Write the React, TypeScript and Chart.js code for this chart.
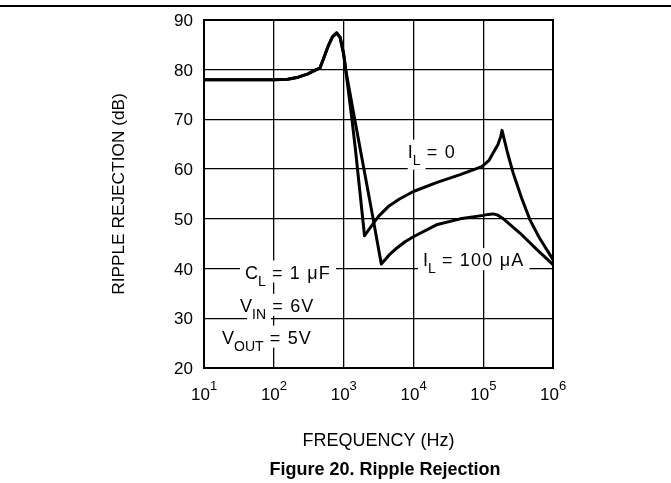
import React, { useEffect, useRef } from 'react';
import { Chart, registerables } from 'chart.js';

Chart.register(...registerables);

// Shared part of both curves (low frequency plateau and resonance peak)
const freqShared = [10, 100, 158, 224, 302, 380, 457, 525, 603, 692, 794, 891, 1000, 1072];
const dbShared = [78, 78, 78.1, 78.5, 79.1, 79.8, 80.3, 82.5, 84.8, 86.6, 87.4, 86.5, 83.2, 80];

// I_L = 0
const freqIL0 = [1318, 1479, 1995, 2512, 3162, 4467, 6310, 10000, 21380, 46770, 95500, 120200, 138000, 162200, 177800, 186200, 223900, 269200, 354800, 467700, 631000, 1000000];
const dbIL0 = [70, 63.9, 46.6, 48.6, 50.5, 52.6, 54.0, 55.5, 57.3, 58.9, 60.5, 61.7, 63.2, 64.9, 66.5, 67.8, 63.2, 59.2, 54.2, 49.8, 46.3, 41.8];

// I_L = 100 uA
const freqIL100 = [1445, 1738, 2512, 3467, 4467, 5754, 7586, 10000, 21380, 46770, 100000, 117500, 138000, 158500, 195000, 338800, 588800, 1000000];
const dbIL100 = [70, 63.9, 51.8, 40.9, 42.7, 44.1, 45.4, 46.4, 48.8, 50.0, 50.7, 50.9, 51.0, 50.8, 50.0, 47.1, 43.8, 40.8];

const yTicks = [20, 30, 40, 50, 60, 70, 80, 90];
const xTickExps = [1, 2, 3, 4, 5, 6];

const xTitle = 'FREQUENCY (Hz)';
const yTitle = 'RIPPLE REJECTION (dB)';
const figTitle = 'Figure 20. Ripple Rejection';

// annotation labels: [main, subscript, rest]
const annoText: string[][] = [
  ['I', 'L', ' = 0'],
  ['I', 'L', ' = 100 μA'],
  ['C', 'L', ' = 1 μF'],
  ['V', 'IN', ' = 6V'],
  ['V', 'OUT', ' = 5V'],
];
const annoFreq = [8300, 13700, 38.6, 32.8, 18.1];
const annoDb = [62.3, 40.5, 38.0, 31.3, 24.9];

const FONT = '"Liberation Sans", Arial, sans-serif';

function toPoints(fs: number[], ds: number[]) {
  return fs.map((f, i) => ({ x: f, y: ds[i] }));
}

const overlayPlugin = {
  id: 'overlay',
  beforeDatasetsDraw(chart: any) {
    const ctx = chart.ctx as CanvasRenderingContext2D;
    const xs = chart.scales.x;
    const ys = chart.scales.y;
    ctx.save();
    annoText.forEach((parts, i) => {
      const x0 = xs.getPixelForValue(annoFreq[i]);
      const yb = ys.getPixelForValue(annoDb[i]);
      const mainFont = `18px ${FONT}`;
      const subFont = `14px ${FONT}`;
      (ctx as any).letterSpacing = '0px';
      ctx.font = mainFont;
      const w1 = ctx.measureText(parts[0]).width;
      ctx.font = subFont;
      const w2 = ctx.measureText(parts[1]).width;
      ctx.font = mainFont;
      (ctx as any).letterSpacing = '1.2px';
      const w3 = ctx.measureText(parts[2]).width;
      (ctx as any).letterSpacing = '0px';
      const total = w1 + w2 + w3;
      const cap = 13;
      const subOff = 7;
      // white masks
      ctx.fillStyle = '#fff';
      ctx.fillRect(x0 - 5, yb - cap - 5, total + 10, cap + 9);
      ctx.fillRect(x0 + w1 - 5, yb + subOff - 10 - 4, w2 + 10, 10 + 9);
      // text
      ctx.fillStyle = '#000';
      ctx.textBaseline = 'alphabetic';
      ctx.textAlign = 'left';
      ctx.font = mainFont;
      ctx.fillText(parts[0], x0, yb);
      ctx.font = subFont;
      ctx.fillText(parts[1], x0 + w1, yb + subOff);
      ctx.font = mainFont;
      (ctx as any).letterSpacing = '1.2px';
      ctx.fillText(parts[2], x0 + w1 + w2, yb);
      (ctx as any).letterSpacing = '0px';
    });
    ctx.restore();
  },
  afterDraw(chart: any) {
    const ctx = chart.ctx as CanvasRenderingContext2D;
    const area = chart.chartArea;
    const xs = chart.scales.x;
    const ys = chart.scales.y;
    ctx.save();
    // border of plot
    ctx.strokeStyle = '#000';
    ctx.lineWidth = 2;
    ctx.strokeRect(area.left, area.top, area.right - area.left, area.bottom - area.top);
    // top rule
    ctx.lineWidth = 2;
    ctx.beginPath();
    ctx.moveTo(0, 6);
    ctx.lineTo(chart.width, 6);
    ctx.stroke();

    ctx.fillStyle = '#000';
    // y tick labels
    ctx.font = `17px ${FONT}`;
    ctx.textAlign = 'right';
    ctx.textBaseline = 'alphabetic';
    yTicks.forEach((v) => {
      const y = ys.getPixelForValue(v);
      ctx.fillText(String(v), area.left - 11, y + 6);
    });
    // x tick labels 10^n
    xTickExps.forEach((e) => {
      const x = xs.getPixelForValue(Math.pow(10, e));
      ctx.font = `17px ${FONT}`;
      ctx.textAlign = 'right';
      ctx.fillText('10', x + 6, area.bottom + 32);
      ctx.font = `13px ${FONT}`;
      ctx.textAlign = 'left';
      ctx.fillText(String(e), x + 6, area.bottom + 22);
    });
    // axis titles
    ctx.font = `18px ${FONT}`;
    ctx.textAlign = 'center';
    ctx.fillText(xTitle, (area.left + area.right) / 2, area.bottom + 78);
    ctx.save();
    ctx.translate(124, (area.top + area.bottom) / 2);
    ctx.rotate(-Math.PI / 2);
    ctx.font = `17.3px ${FONT}`;
    ctx.textAlign = 'center';
    ctx.fillText(yTitle, 0, 0);
    ctx.restore();
    // figure title
    ctx.font = `bold 18px ${FONT}`;
    ctx.textAlign = 'center';
    ctx.fillText(figTitle, 385, area.bottom + 107);
    ctx.restore();
  },
};

export default function App() {
  const ref = useRef<HTMLCanvasElement | null>(null);
  useEffect(() => {
    document.body.style.margin = '0';
    const canvas = ref.current;
    if (!canvas) return;
    const chart = new Chart(canvas, {
      type: 'line',
      data: {
        datasets: [
          {
            label: 'I_L = 0',
            data: toPoints(freqShared.concat(freqIL0), dbShared.concat(dbIL0)),
            borderColor: '#000',
            borderWidth: 3,
            pointRadius: 0,
            tension: 0,
            fill: false,
            borderJoinStyle: 'round',
          },
          {
            label: 'I_L = 100 uA',
            data: toPoints(freqShared.concat(freqIL100), dbShared.concat(dbIL100)),
            borderColor: '#000',
            borderWidth: 3,
            pointRadius: 0,
            tension: 0,
            fill: false,
            borderJoinStyle: 'round',
          },
        ],
      },
      options: {
        animation: false,
        responsive: false,
        devicePixelRatio: 1,
        layout: { padding: { left: 204, right: 118, top: 20, bottom: 115 } },
        plugins: { legend: { display: false }, tooltip: { enabled: false } },
        events: [],
        scales: {
          x: {
            type: 'logarithmic',
            min: 10,
            max: 1000000,
            afterBuildTicks: (scale: any) => {
              scale.ticks = xTickExps.map((e) => ({ value: Math.pow(10, e) }));
            },
            ticks: { display: false },
            grid: { color: '#000', lineWidth: 1.3, drawTicks: false },
            border: { display: false },
          },
          y: {
            type: 'linear',
            min: 20,
            max: 90,
            afterBuildTicks: (scale: any) => {
              scale.ticks = yTicks.map((v) => ({ value: v }));
            },
            ticks: { display: false },
            grid: { color: '#000', lineWidth: 1.3, drawTicks: false },
            border: { display: false },
          },
        },
      } as any,
      plugins: [overlayPlugin],
    });
    return () => chart.destroy();
  }, []);
  return (
    <div style={{ width: 671, height: 483, background: '#fff' }}>
      <canvas ref={ref} width={671} height={483} style={{ display: 'block' }} />
    </div>
  );
}
